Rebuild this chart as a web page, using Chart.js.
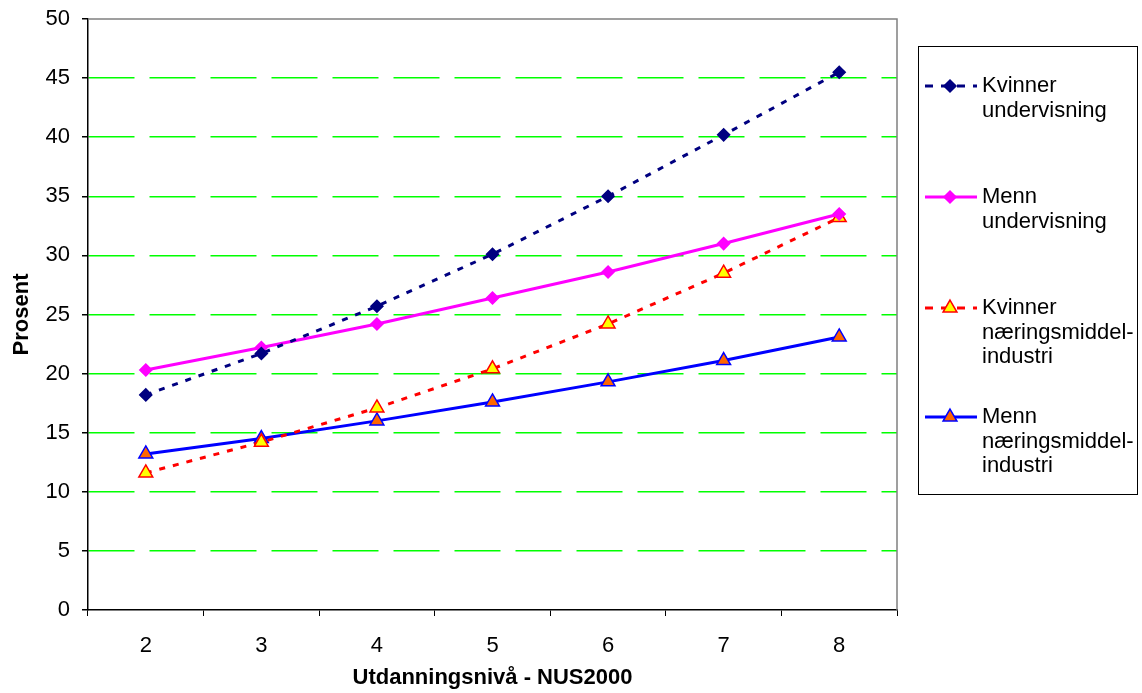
<!DOCTYPE html>
<html lang="no">
  <head>
    <meta charset="UTF-8" />
    <script src="https://cdn.jsdelivr.net/npm/chart.js@4.4.0/dist/chart.umd.min.js"></script>
    <title>Utdanningsnivå - NUS2000</title>
    <style>
      body {
        margin: 0;
        padding: 0;
        background: #fff;
      }
    </style>
  </head>
  <body>
    <canvas id="chart" width="1142" height="693"></canvas>
    <script>
      const levels = ['2', '3', '4', '5', '6', '7', '8']
      const kvinnerUndervisning = [18.2, 21.7, 25.7, 30.1, 35.0, 40.2, 45.5]
      const mennUndervisning = [20.3, 22.2, 24.2, 26.4, 28.6, 31.0, 33.5]
      const kvinnerNaering = [11.6, 14.2, 17.1, 20.4, 24.2, 28.5, 33.2]
      const mennNaering = [13.2, 14.5, 16.0, 17.6, 19.3, 21.1, 23.1]

      const FONT = "'Liberation Sans', Arial, sans-serif"
      const SIZE = 22

      // plot frame (top/right in grey) and the boxed legend on the right
      const boxLegend = {
        id: 'boxLegend',
        beforeDatasetsDraw(chart) {
          const { ctx, chartArea: a } = chart
          ctx.save()
          ctx.strokeStyle = '#808080'
          ctx.lineWidth = 1.5
          ctx.beginPath()
          ctx.moveTo(a.left, a.top)
          ctx.lineTo(a.right, a.top)
          ctx.lineTo(a.right, a.bottom)
          ctx.stroke()
          ctx.restore()
        },
        afterDraw(chart) {
          const { ctx } = chart
          const x0 = 918, y0 = 46, w = 219, h = 448
          const rowsY = [86, 197, 308, 417]
          ctx.save()
          ctx.strokeStyle = '#000'
          ctx.lineWidth = 1
          ctx.strokeRect(x0 + 0.5, y0 + 0.5, w, h)
          chart.data.datasets.forEach((ds, i) => {
            const y = rowsY[i]
            ctx.strokeStyle = ds.borderColor
            ctx.lineWidth = 3
            ctx.setLineDash(ds.borderDash ? [8, 8] : [])
            ctx.beginPath()
            ctx.moveTo(925, y)
            ctx.lineTo(977, y)
            ctx.stroke()
            ctx.setLineDash([])
            ctx.fillStyle = ds.pointBackgroundColor
            ctx.strokeStyle = ds.pointBorderColor
            ctx.lineWidth = ds.pointBorderWidth
            Chart.helpers.drawPoint(ctx, {
              pointStyle: ds.pointStyle,
              radius: ds.pointRadius,
              borderWidth: ds.pointBorderWidth,
              rotation: 0
            }, 950, y)
            ctx.fillStyle = '#000'
            ctx.font = SIZE + 'px ' + FONT
            ctx.textBaseline = 'middle'
            ds.label.split('\n').forEach((line, j) => {
              ctx.fillText(line, 982, y + j * 24.5)
            })
          })
          ctx.restore()
        }
      }

      const series = (label, data, color, fill, stroke, style, dash) => ({
        label,
        data,
        borderColor: color,
        borderWidth: 3,
        borderDash: dash,
        pointStyle: style,
        pointRadius: style === 'triangle' ? 8 : 6,
        pointBackgroundColor: fill,
        pointBorderColor: stroke,
        pointBorderWidth: 1.5,
        tension: 0
      })

      new Chart(document.getElementById('chart').getContext('2d'), {
        type: 'line',
        data: {
          labels: levels,
          datasets: [
            series('Kvinner\nundervisning', kvinnerUndervisning, '#000080', '#000080', '#000080', 'rectRot', [6, 8]),
            series('Menn\nundervisning', mennUndervisning, '#ff00ff', '#ff00ff', '#ff00ff', 'rectRot', undefined),
            series('Kvinner\nnæringsmiddel-\nindustri', kvinnerNaering, '#ff0000', '#ffff00', '#ff0000', 'triangle', [6, 8]),
            series('Menn\nnæringsmiddel-\nindustri', mennNaering, '#0000ff', '#ff6600', '#0000ff', 'triangle', undefined)
          ]
        },
        options: {
          responsive: false,
          animation: false,
          layout: { padding: { left: 0, top: 19, right: 245, bottom: 0 } },
          plugins: {
            legend: { display: false },
            tooltip: { enabled: false }
          },
          scales: {
            x: {
              offset: true,
              afterFit: (s) => { s.height = 83 },
              grid: {
                offset: true,
                drawOnChartArea: false,
                tickLength: 6,
                tickColor: '#000'
              },
              border: { color: '#000', width: 1.5 },
              ticks: { color: '#000', font: { family: FONT, size: SIZE }, padding: 17 },
              title: {
                display: true,
                text: 'Utdanningsnivå - NUS2000',
                color: '#000',
                font: { family: FONT, size: SIZE, weight: 'bold' },
                padding: { top: 0, bottom: 2 }
              }
            },
            y: {
              min: 0,
              max: 50,
              afterFit: (s) => {
                s.width = 88
                s.paddingTop = 0
                s.paddingBottom = 0
              },
              ticks: { stepSize: 5, color: '#000', font: { family: FONT, size: SIZE }, padding: 12 },
              grid: {
                color: (c) => (c.tick && (c.tick.value === 0 || c.tick.value === 50) ? 'rgba(0,0,0,0)' : '#00ff00'),
                lineWidth: 1.5,
                tickLength: 6,
                tickColor: '#000'
              },
              border: { color: '#000', width: 1.5, dash: [46, 15] },
              title: {
                display: true,
                text: 'Prosent',
                color: '#000',
                font: { family: FONT, size: SIZE, weight: 'bold' },
                padding: { top: 9, bottom: 0 }
              }
            }
          }
        },
        plugins: [boxLegend]
      })
    </script>
  </body>
</html>
